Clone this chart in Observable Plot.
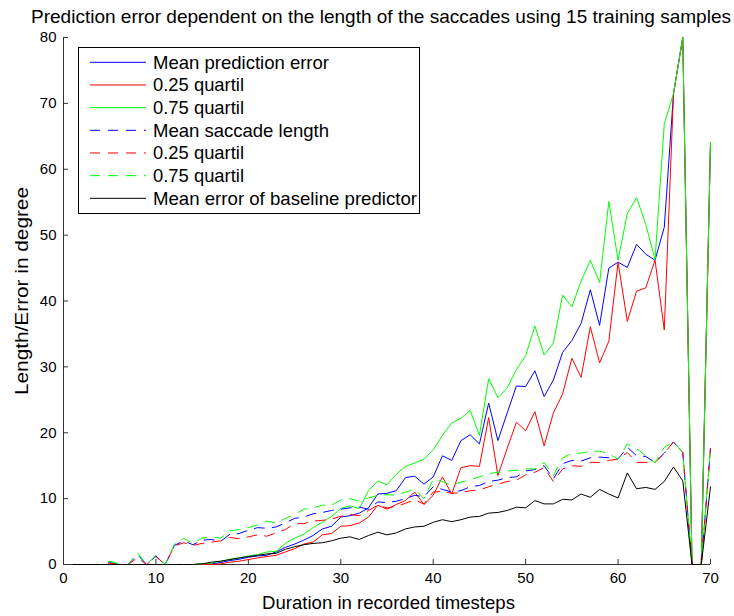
<!DOCTYPE html>
<html>
<head>
<meta charset="utf-8">
<script src="https://cdn.jsdelivr.net/npm/d3@7"></script>
<script src="https://cdn.jsdelivr.net/npm/@observablehq/plot@0.6"></script>
<style>
  html, body { margin: 0; padding: 0; background: #fff; }
  #chart { width: 734px; height: 616px; }
</style>
</head>
<body>
<div id="chart"></div>
<script>
// ---- data ----
const steps = d3.range(1, 71);
const xTicks = [0, 10, 20, 30, 40, 50, 60, 70];
const yTicks = [0, 10, 20, 30, 40, 50, 60, 70, 80];

const meanError = [0,0,0,0,0,0,0,0,0,0, 0,0,0,0,0.05,0.1,0.3,0.6,0.8,1.1,
  1.3,1.4,1.9,2.6,3.1,3.7,4.4,5.4,5.8,7.2, 7.4,7.8,8.6,10.7,10.8,11.2,13.2,13.4,12.2,13.3,
  16.5,15.8,18.8,19.7,18.3,24.5,18.8,23.0,27.1,27.0, 29.4,25.5,28.0,32.2,34.0,36.6,41.7,36.3,45.0,45.9,
  45.1,48.6,47.1,46.2,51.2,71.5,80,0,0,64];
const q25Error = [0,0,0,0,0,0,0,0,0,0, 0,0,0,0,0,0,0.1,0.35,0.5,0.75,
  1.0,1.2,1.4,1.9,2.4,3.1,3.4,4.5,4.7,5.8, 5.9,6.3,7.2,9.0,8.4,9.1,9.7,11.0,9.1,10.5,
  13.3,10.7,14.7,15.0,14.9,22.3,13.5,17.6,21.6,20.3, 23.2,18.0,23.0,25.9,31.3,28.4,36.1,30.6,33.9,45.9,
  36.9,41.5,42.0,46.2,35.6,71.5,80,0,0,64];
const q75Error = [0,0,0,0,0,0,0,0,0,0, 0,0,0,0,0.1,0.2,0.5,0.8,1.0,1.3,
  1.5,1.9,2.0,3.2,4.0,4.6,5.6,6.4,7.3,8.5, 8.9,8.5,11.2,12.7,12.1,13.7,14.9,15.4,16.0,17.4,
  19.6,21.5,22.2,23.4,19.6,28.2,25.3,26.8,29.6,31.7, 36.2,31.8,33.6,40.9,39.1,43.0,46.2,42.8,55.1,46.2,
  53.3,55.7,51.6,46.3,66.9,71.5,80,0,0,64];
const meanLength = [0,0,0,0,0.3,0,0,1.5,0,1.3, 0,2.9,3.6,3.0,3.7,3.8,3.5,4.6,4.7,5.2,
  5.6,5.5,5.7,6.3,7.0,7.2,7.7,7.9,8.2,8.4, 8.6,8.7,8.4,9.5,9.4,9.6,10.0,10.5,10.3,11.8,
  11.4,11.0,11.2,11.8,12.0,12.6,12.8,13.2,13.3,14.2, 14.4,15.0,13.0,15.3,15.8,15.7,16.2,16.3,16.2,16.0,
  17.8,16.5,16.4,15.5,16.9,18.6,17.0,0,0,17.6];
const q25Length = [0,0,0,0,0.2,0,0,1.0,0,1.2, 0,2.8,3.3,2.9,3.2,3.4,3.6,4.1,3.9,4.2,
  4.5,4.3,4.8,5.3,6.2,6.2,6.6,6.7,6.9,7.3, 7.6,7.4,8.2,9.0,8.6,8.8,9.3,9.8,9.2,11.0,
  11.1,10.8,10.9,11.2,11.3,11.8,12.2,12.6,12.8,13.6, 14.0,14.7,12.6,14.5,15.0,14.9,15.5,15.5,15.8,16.0,
  17.0,15.5,15.5,15.5,16.9,18.6,17.0,0,0,17.6];
const q75Length = [0,0,0,0,0.5,0.1,0,1.8,0,1.4, 0,3.1,4.0,3.2,4.0,4.2,4.0,5.1,5.3,5.6,
  6.0,6.6,6.3,7.0,7.6,8.4,8.6,9.0,9.0,9.8, 10.0,9.6,10.1,10.5,10.6,10.5,11.0,11.4,10.0,12.9,
  12.6,12.0,12.5,12.9,13.3,13.8,14.0,14.2,14.3,14.5, 14.5,15.5,13.5,16.2,16.9,16.9,17.2,17.2,16.8,16.0,
  18.3,17.6,16.5,15.5,17.8,18.6,17.0,0,0,17.6];
const baselineError = [0,0,0,0,0,0,0,0,0,0, 0,0,0,0,0.1,0.35,0.5,0.75,1.0,1.2,
  1.4,1.6,1.7,2.3,2.7,3.0,3.2,3.3,3.6,4.0, 4.2,3.8,4.4,4.9,4.5,4.8,5.4,5.7,5.8,6.4,
  6.8,6.5,6.8,7.2,7.3,7.8,7.9,8.2,8.7,8.6, 9.7,9.2,9.2,9.9,9.8,10.7,10.2,11.4,10.7,10.1,
  13.9,11.5,11.7,11.4,12.6,14.8,12.7,0,0,11.8];

const seriesNames = ["Mean prediction error", "0.25 quartil", "0.75 quartil",
  "Mean saccade length", "0.25 quartil", "0.75 quartil", "Mean error of baseline predictor"];
const seriesValues = [meanError, q25Error, q75Error, meanLength, q25Length, q75Length, baselineError];
const seriesColors = ["#0000ff", "#ff0000", "#00ff00", "#0000ff", "#ff0000", "#00ff00", "#000000"];
const seriesDash = [null, null, null, "10,8", "10,8", "10,8", null];

const titleText = "Prediction error dependent on the length of the saccades using 15 training samples";
const xLabel = "Duration in recorded timesteps";
const yLabel = "Length/Error in degree";

// ---- chart ----
const lineMarks = seriesValues.map((vals, i) =>
  Plot.line(steps.map((s, j) => ({step: s, value: vals[j]})), {
    x: "step", y: "value", stroke: seriesColors[i], strokeWidth: 1,
    strokeDasharray: seriesDash[i] || undefined
  })
);

const chart = Plot.plot({
  width: 734,
  height: 616,
  marginLeft: 63,
  marginRight: 24,
  marginTop: 37,
  marginBottom: 52,
  style: {fontFamily: "'Liberation Sans', Arial, sans-serif", fontSize: "15px", color: "#000", background: "#fff", overflow: "visible"},
  x: {domain: [0, 70]},
  y: {domain: [0, 80]},
  marks: [
    Plot.ruleY([0], {stroke: "#333", strokeWidth: 1}),
    Plot.ruleX([0], {stroke: "#333", strokeWidth: 1}),
    Plot.axisX(xTicks, {tickSize: -5, tickPadding: 13, label: null, stroke: "#333", fill: "#000", fontSize: 15}),
    Plot.axisY(yTicks, {tickSize: -5, tickPadding: 12, label: null, stroke: "#333", fill: "#000", fontSize: 15}),
    ...lineMarks
  ]
});
document.getElementById("chart").appendChild(chart);

// ---- title, axis labels, legend (text overlays) ----
const svg = d3.select(chart);
const font = "'Liberation Sans', Arial, sans-serif";
svg.append("text").attr("x", 381).attr("y", 23).attr("text-anchor", "middle")
  .attr("font-family", font).attr("font-size", 18.5).attr("fill", "#000")
  .attr("textLength", 700).attr("lengthAdjust", "spacingAndGlyphs").text(titleText);
svg.append("text").attr("x", 388.5).attr("y", 609).attr("text-anchor", "middle")
  .attr("font-family", font).attr("font-size", 18.5).attr("fill", "#000")
  .attr("textLength", 253).attr("lengthAdjust", "spacingAndGlyphs").text(xLabel);
svg.append("text").attr("transform", "translate(27.5,291) rotate(-90)").attr("text-anchor", "middle")
  .attr("font-family", font).attr("font-size", 18.5).attr("fill", "#000")
  .attr("textLength", 208).attr("lengthAdjust", "spacingAndGlyphs").text(yLabel);

const lg = svg.append("g").attr("text-anchor", "start");
lg.append("rect").attr("x", 78.5).attr("y", 47.5).attr("width", 341).attr("height", 166)
  .attr("fill", "#fff").attr("stroke", "#000").attr("stroke-width", 1);
const textLens = [176, 91, 91, 176, 91, 91, 264];
seriesNames.forEach((name, i) => {
  const cy = 62.3 + i * 22.67;
  lg.append("line").attr("x1", 90).attr("x2", 146).attr("y1", cy).attr("y2", cy)
    .attr("stroke", seriesColors[i]).attr("stroke-width", 1)
    .attr("stroke-dasharray", seriesDash[i]);
  lg.append("text").attr("x", 153).attr("y", cy + 6.5).attr("text-anchor", "start")
    .attr("font-family", font).attr("font-size", 18.5).attr("fill", "#000")
    .attr("textLength", textLens[i]).attr("lengthAdjust", "spacingAndGlyphs").text(name);
});
</script>
</body>
</html>
